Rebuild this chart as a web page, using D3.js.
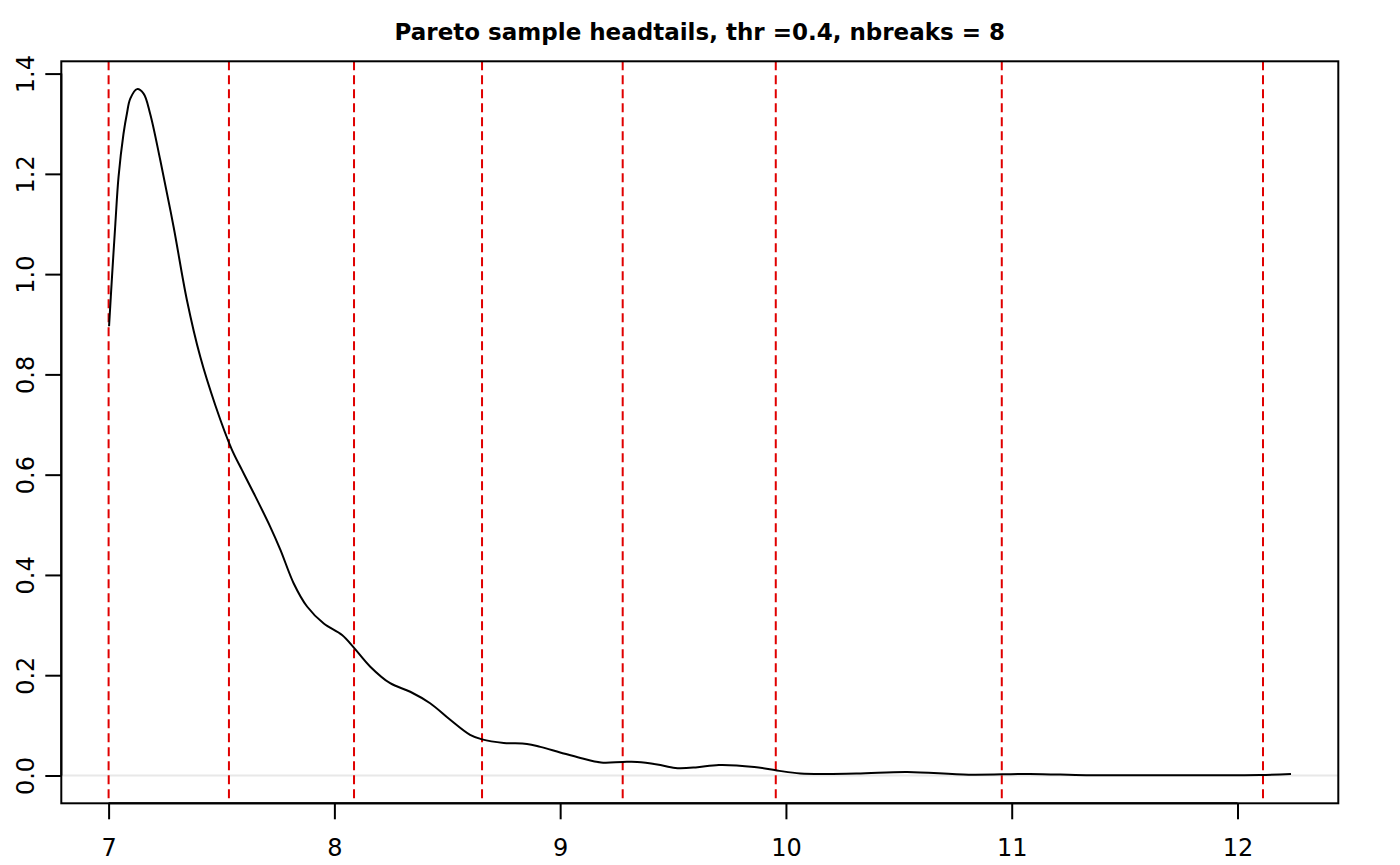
<!doctype html>
<html>
<head>
<meta charset="utf-8">
<title>Pareto sample headtails</title>
<script src="https://cdn.jsdelivr.net/npm/d3@7"></script>
<style>
  body { margin: 0; background: #fff; }
  text { font-family: "DejaVu Sans", sans-serif; }
</style>
</head>
<body>
<div id="chart"></div>
<script>
// density estimate
var densX = [7.002, 7.015, 7.03, 7.044, 7.066, 7.081, 7.096, 7.126, 7.155, 7.184, 7.229, 7.288,
  7.347, 7.406, 7.473,
  7.544, 7.591, 7.643, 7.716, 7.761, 7.82, 7.879, 7.953, 8.034, 8.088, 8.159, 8.247, 8.336,
  8.424, 8.513, 8.601, 8.654, 8.75, 8.853, 8.912, 9.0, 9.09, 9.181, 9.277, 9.341, 9.43, 9.51,
  9.6, 9.703, 9.86, 9.96, 10.064, 10.312, 10.537, 10.81, 11.08, 11.33, 11.6, 11.89, 12.1, 12.237];
var densY = [0.896, 0.994, 1.101, 1.194, 1.28, 1.32, 1.35, 1.369, 1.36, 1.32, 1.227, 1.094,
  0.948, 0.835, 0.738,
  0.652, 0.609, 0.563, 0.496, 0.45, 0.383, 0.337, 0.303, 0.28, 0.254, 0.217, 0.184, 0.167,
  0.144, 0.111, 0.081, 0.072, 0.065, 0.063, 0.057, 0.046, 0.035, 0.026, 0.027, 0.027, 0.022, 0.015,
  0.016, 0.021, 0.017, 0.01, 0.004, 0.004, 0.007, 0.0015, 0.003, 0.0005, 0.0003, 0.0003, 0.001, 0.003];
// headtails breaks
var breaks = [7.0, 7.533, 8.087, 8.654, 9.277, 9.955, 10.956, 12.113];
var xTicks = [7, 8, 9, 10, 11, 12];
var yTicks = [0, 0.2, 0.4, 0.6, 0.8, 1.0, 1.2, 1.4];

var W = 1400, H = 865;
var box = {left: 61.3, top: 61.3, right: 1338.3, bottom: 803.3};

var svg = d3.select("#chart").append("svg").attr("width", W).attr("height", H);

// R style: 4% padding around data range
var x = d3.scaleLinear().domain([6.7905, 12.4465]).range([box.left, box.right]);
var y = d3.scaleLinear().domain([-0.0555, 1.4245]).range([box.bottom, box.top]);

// zero line
svg.append("line")
  .attr("x1", box.left).attr("x2", box.right)
  .attr("y1", y(0)).attr("y2", y(0))
  .attr("stroke", "#e8e8e8").attr("stroke-width", 2);

// break lines
svg.selectAll("line.brk").data(breaks).enter().append("line")
  .attr("class", "brk")
  .attr("x1", d => x(d)).attr("x2", d => x(d))
  .attr("y1", box.top).attr("y2", box.bottom)
  .attr("stroke", "#e00000").attr("stroke-width", 2)
  .attr("stroke-dasharray", "9,5");

// density curve
var pts = densX.map((d, i) => [d, densY[i]]);
svg.append("path").datum(pts)
  .attr("fill", "none").attr("stroke", "#000").attr("stroke-width", 2)
  .attr("d", d3.line().x(d => x(d[0])).y(d => y(d[1])).curve(d3.curveCatmullRom.alpha(0.5)));

// box
svg.append("rect")
  .attr("x", box.left).attr("y", box.top)
  .attr("width", box.right - box.left).attr("height", box.bottom - box.top)
  .attr("fill", "none").attr("stroke", "#000").attr("stroke-width", 2);

// axes
var xAxis = d3.axisBottom(x).tickValues(xTicks).tickSize(16).tickPadding(20)
  .tickFormat(d3.format("d"));
var gx = svg.append("g").attr("transform", "translate(0," + box.bottom + ")").call(xAxis);
gx.select(".domain").attr("d", "M" + x(7) + ",0H" + x(12)).attr("stroke-width", 2);
gx.selectAll(".tick line").attr("stroke-width", 2);
gx.selectAll("text").attr("font-size", 24).attr("font-family", "DejaVu Sans").attr("fill", "#000");

var yAxis = d3.axisLeft(y).tickValues(yTicks).tickSize(16).tickPadding(0)
  .tickFormat(d3.format(".1f"));
var gy = svg.append("g").attr("transform", "translate(" + box.left + ",0)").call(yAxis);
gy.select(".domain").attr("d", "M0," + y(0) + "V" + y(1.4)).attr("stroke-width", 2);
gy.selectAll(".tick line").attr("stroke-width", 2);
gy.selectAll("text")
  .attr("font-size", 24).attr("font-family", "DejaVu Sans").attr("fill", "#000")
  .attr("x", 0).attr("dy", null).attr("text-anchor", "middle")
  .attr("transform", "translate(-35,0) rotate(-90)")
  .attr("dominant-baseline", "central");

// title
svg.append("text")
  .attr("x", (box.left + box.right) / 2).attr("y", 39.5)
  .attr("text-anchor", "middle")
  .attr("font-size", 23).attr("font-weight", "bold")
  .text("Pareto sample headtails, thr =0.4, nbreaks = 8");
</script>
</body>
</html>
